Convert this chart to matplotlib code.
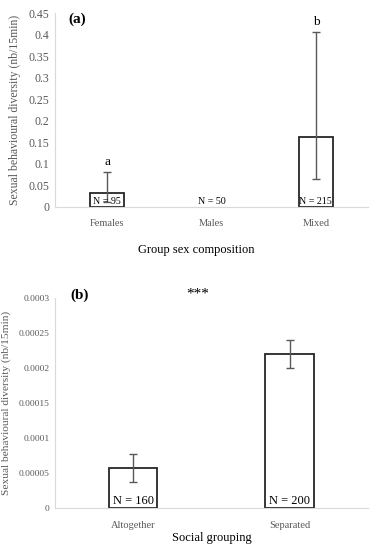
import matplotlib
matplotlib.use("Agg")
import matplotlib.pyplot as plt
import numpy as np

plt.rcParams['font.family'] = ['Liberation Serif', 'DejaVu Serif']

# panel (a): group sex composition
groups_a = ["Females", "Males", "Mixed"]
means_a = [0.033, 0.0, 0.162]
err_low_a = [0.021, 0.0, 0.098]
err_high_a = [0.049, 0.0, 0.245]
n_a = ["N = 95", "N = 50", "N = 215"]
letters_a = ["a", "", "b"]
letter_y_a = [0.103, 0.0, 0.43]
ticks_a = [0, 0.05, 0.1, 0.15, 0.2, 0.25, 0.3, 0.35, 0.4, 0.45]
tick_labels_a = ["0", "0.05", "0.1", "0.15", "0.2", "0.25", "0.3", "0.35", "0.4", "0.45"]

# panel (b): social grouping
groups_b = ["Altogether", "Separated"]
means_b = [0.0000575, 0.00022]
err_b = [0.00002, 0.00002]
n_b = ["N = 160", "N = 200"]
ticks_b = [0, 0.00005, 0.0001, 0.00015, 0.0002, 0.00025, 0.0003]
tick_labels_b = ["0", "0.00005", "0.0001", "0.00015", "0.0002", "0.00025", "0.0003"]

ylab = "Sexual behavioural diversity (nb/15min)"
grey = "#595959"
edge = "#262626"

fig = plt.figure(figsize=(3.71, 5.5), dpi=100)
ax1 = fig.add_axes([0.148, 0.624, 0.844, 0.352])
ax2 = fig.add_axes([0.148, 0.076, 0.844, 0.382])


def style(ax, ysize, ylab_x):
    for s in ["top", "right"]:
        ax.spines[s].set_visible(False)
    for s in ["left", "bottom"]:
        ax.spines[s].set_color("#d9d9d9")
        ax.spines[s].set_linewidth(0.8)
    ax.tick_params(length=0, labelcolor="#595959")
    ax.tick_params(axis="x", labelsize=7.5, pad=9)
    ax.tick_params(axis="y", labelsize=ysize, pad=4)
    ax.yaxis.set_label_coords(ylab_x, 0.5)


# top panel
x = np.arange(len(groups_a))
lw_a = [1.3 if m > 0 else 0 for m in means_a]
ax1.bar(x, means_a, width=0.32, color="white", edgecolor=edge, linewidth=lw_a)
ax1.errorbar(x[[0, 2]], np.array(means_a)[[0, 2]],
             yerr=[np.array(err_low_a)[[0, 2]], np.array(err_high_a)[[0, 2]]],
             fmt="none", ecolor=grey, elinewidth=1, capsize=3)
for i in range(len(groups_a)):
    ax1.text(x[i], 0.012, n_a[i], ha="center", va="center", fontsize=7.2)
    if letters_a[i]:
        ax1.text(x[i], letter_y_a[i], letters_a[i], ha="center", va="center", fontsize=9.5)
ax1.set_xlim(-0.5, 2.5)
ax1.set_ylim(0, 0.45)
ax1.set_yticks(ticks_a, tick_labels_a)
ax1.set_xticks(x, groups_a)
ax1.set_xlabel("Group sex composition", fontsize=9)
ax1.set_ylabel(ylab, fontsize=8.5, color="#595959")
ax1.text(0.042, 0.97, "(a)", transform=ax1.transAxes, fontsize=11,
         fontweight="bold", ha="left", va="center")
style(ax1, 8.5, -0.108)
ax1.xaxis.set_label_coords(0.45, -0.19)

# bottom panel
xb = np.arange(len(groups_b))
ax2.bar(xb, means_b, width=0.31, color="white", edgecolor=edge, linewidth=1.3)
ax2.errorbar(xb, means_b, yerr=err_b, fmt="none", ecolor=grey, elinewidth=1, capsize=3)
for i in range(len(groups_b)):
    ax2.text(xb[i], 0.0000104, n_b[i], ha="center", va="center", fontsize=9)
ax2.set_xlim(-0.5, 1.5)
ax2.set_ylim(0, 0.0003)
ax2.set_yticks(ticks_b, tick_labels_b)
ax2.set_xticks(xb, groups_b)
ax2.set_xlabel("Social grouping", fontsize=9, labelpad=2)
ax2.set_ylabel(ylab, fontsize=8.2, color="#595959")
ax2.text(0.048, 1.014, "(b)", transform=ax2.transAxes, fontsize=11,
         fontweight="bold", ha="left", va="center")
ax2.text(0.455, 1.02, "***", transform=ax2.transAxes, fontsize=11,
         ha="center", va="center")
style(ax2, 6.8, -0.14)

fig.savefig("out.png", dpi=100)
